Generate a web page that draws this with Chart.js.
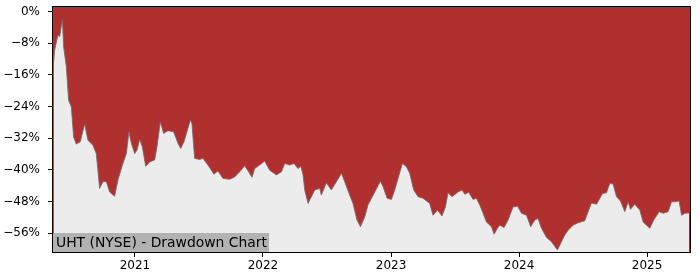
<!DOCTYPE html>
<html><head><meta charset="utf-8">
<script src="https://cdn.jsdelivr.net/npm/chart.js@4/dist/chart.umd.min.js"></script>
<style>html,body{margin:0;padding:0;background:#fff}</style>
</head><body>
<canvas id="c" width="700" height="280"></canvas>
<script>
// Time as decimal year
const dates = [
2020.365,2020.373,2020.398,2020.412,2020.433,2020.443,2020.464,2020.482,2020.503,2020.521,
2020.542,2020.573,2020.607,2020.633,2020.672,2020.698,2020.724,2020.750,2020.777,2020.802,
2020.841,2020.867,2020.902,2020.933,2020.953,2020.972,2020.998,2021.016,2021.037,2021.058,
2021.084,2021.115,2021.154,2021.172,2021.198,2021.224,2021.258,2021.302,2021.336,2021.357,
2021.383,2021.433,2021.445,2021.466,2021.505,2021.531,2021.570,2021.617,2021.648,2021.688,
2021.740,2021.779,2021.818,2021.857,2021.888,2021.914,2021.935,2021.974,2022.013,2022.052,
2022.105,2022.144,2022.170,2022.209,2022.242,2022.273,2022.295,2022.313,2022.326,2022.352,
2022.404,2022.443,2022.456,2022.495,2022.534,2022.573,2022.613,2022.638,2022.677,2022.703,
2022.734,2022.761,2022.795,2022.820,2022.873,2022.917,2022.938,2022.969,2023.003,2023.029,
2023.063,2023.089,2023.120,2023.146,2023.177,2023.211,2023.250,2023.302,2023.328,2023.363,
2023.398,2023.425,2023.445,2023.477,2023.523,2023.555,2023.576,2023.607,2023.641,2023.667,
2023.693,2023.719,2023.745,2023.784,2023.805,2023.831,2023.849,2023.883,2023.914,2023.953,
2023.988,2024.019,2024.058,2024.091,2024.123,2024.148,2024.175,2024.214,2024.253,2024.300,
2024.331,2024.357,2024.383,2024.422,2024.461,2024.513,2024.539,2024.566,2024.605,2024.652,
2024.683,2024.709,2024.734,2024.761,2024.792,2024.826,2024.852,2024.870,2024.904,2024.943,
2024.969,2025.021,2025.052,2025.094,2025.125,2025.164,2025.191,2025.224,2025.250,2025.269,
2025.295,2025.328
];
// Drawdown in percent
const drawdown = [
-12.7,-9.7,-5.9,-6.3,-1.9,-8.9,-13.9,-22.4,-24.1,-31.7,
-33.5,-32.9,-28.4,-32.5,-33.8,-35.9,-44.7,-43.0,-43.0,-45.6,
-46.7,-42.6,-38.8,-35.9,-30.4,-33.3,-35.9,-35.0,-32.3,-34.2,
-39.1,-38.0,-37.5,-34.2,-27.9,-30.8,-30.1,-30.4,-33.3,-34.6,
-32.9,-27.4,-28.3,-37.1,-37.4,-37.1,-38.8,-41.1,-40.3,-42.2,
-42.4,-41.8,-40.5,-39.0,-40.5,-41.9,-39.7,-38.8,-37.8,-40.1,
-41.3,-40.5,-38.4,-38.8,-38.4,-39.7,-39.1,-41.3,-45.1,-48.5,
-45.1,-44.7,-46.4,-43.3,-45.1,-43.0,-40.9,-43.0,-46.4,-48.5,
-52.7,-54.4,-51.9,-48.9,-45.6,-42.9,-44.3,-47.2,-47.5,-45.1,
-41.3,-38.4,-39.2,-40.9,-45.1,-46.8,-47.2,-48.5,-51.5,-50.2,
-51.7,-49.4,-45.8,-46.8,-45.6,-45.1,-46.2,-45.7,-47.5,-47.2,
-48.9,-51.0,-53.2,-54.4,-56.3,-54.8,-54.0,-54.6,-52.7,-49.4,
-49.2,-51.0,-51.5,-54.4,-52.7,-52.3,-54.8,-57.1,-58.2,-60.3,
-58.2,-56.5,-55.3,-54.0,-53.4,-52.9,-50.6,-48.4,-48.7,-46.0,
-45.8,-43.4,-43.6,-46.8,-47.9,-50.6,-48.1,-50.0,-48.7,-50.2,
-53.2,-54.8,-52.7,-50.6,-51.0,-50.6,-48.1,-48.1,-47.9,-51.5,
-51.0,-50.9
];
const xTickYears = [2021, 2022, 2023, 2024, 2025];
const yTickValues = [0, -8, -16, -24, -32, -40, -48, -56];
const chartTitle = 'UHT (NYSE) - Drawdown Chart';

const RED = 'rgb(176,48,48)';
const GRAY_BG = 'rgb(236,236,236)';

const framePlugin = {
  id: 'frame',
  beforeDatasetsDraw(chart) {
    const {ctx, chartArea: a} = chart;
    ctx.save();
    ctx.fillStyle = RED;
    ctx.fillRect(a.left, a.top, a.right - a.left, a.bottom - a.top);
    ctx.restore();
  },
  afterDraw(chart) {
    const {ctx, chartArea: a} = chart;
    ctx.save();
    ctx.font = '13.9px "DejaVu Sans"';
    const tw = ctx.measureText(chartTitle).width;
    const boxH = 19;
    ctx.fillStyle = 'rgb(178,178,178)';
    ctx.fillRect(a.left, a.bottom - boxH, tw + 5, boxH);
    ctx.fillStyle = '#000';
    ctx.textBaseline = 'middle';
    ctx.textAlign = 'left';
    ctx.fillText(chartTitle, a.left + 3, a.bottom - boxH / 2 + 0.5);
    ctx.strokeStyle = '#000';
    ctx.lineWidth = 1;
    ctx.strokeRect(Math.round(a.left) - 0.5, Math.round(a.top) - 0.5, Math.round(a.right - a.left) + 1, Math.round(a.bottom - a.top) + 1);
    ctx.restore();
  }
};

new Chart(document.getElementById('c'), {
  type: 'line',
  data: {
    datasets: [{
      data: dates.map((d, i) => ({x: d, y: drawdown[i]})),
      borderColor: 'rgba(110,110,110,0.85)',
      borderWidth: 1,
      backgroundColor: GRAY_BG,
      fill: 'start',
      pointRadius: 0,
      tension: 0
    }]
  },
  options: {
    responsive: false,
    animation: false,
    events: [],
    layout: {padding: {top: 7, right: 10, left: 0, bottom: 0}},
    plugins: {legend: {display: false}, tooltip: {enabled: false}},
    scales: {
      x: {
        type: 'linear',
        min: 2020.36,
        max: 2025.335,
        afterBuildTicks(s) { s.ticks = xTickYears.map(v => ({value: v})); },
        afterFit(s) { s.height = 28; s.paddingLeft = 0; s.paddingRight = 0; },
        border: {display: false},
        grid: {drawOnChartArea: false, drawTicks: true, tickLength: 5, color: '#000'},
        ticks: {
          autoSkip: false, maxRotation: 0, padding: 2, color: '#000',
          font: {family: 'DejaVu Sans', size: 12},
          callback: v => String(v)
        }
      },
      y: {
        type: 'linear',
        min: -60.8,
        max: 1.2,
        afterBuildTicks(s) { s.ticks = yTickValues.map(v => ({value: v})); },
        afterFit(s) { s.width = 53; s.paddingTop = 0; s.paddingBottom = 0; },
        border: {display: false},
        grid: {drawOnChartArea: false, drawTicks: true, tickLength: 5, color: '#000'},
        ticks: {
          autoSkip: false, padding: 8, color: '#000',
          font: {family: 'DejaVu Sans', size: 12},
          callback: v => (v < 0 ? '\u2212' + Math.abs(v) : String(v)) + '%'
        }
      }
    }
  },
  plugins: [framePlugin]
});
</script>
</body></html>
